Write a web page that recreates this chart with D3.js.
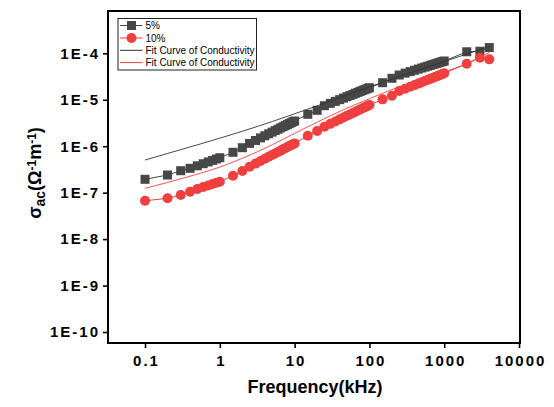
<!DOCTYPE html>
<html>
<head>
<meta charset="utf-8">
<script src="https://cdn.jsdelivr.net/npm/d3@7"></script>
<style>
  html, body { margin: 0; padding: 0; background: #fff; }
  svg { display: block; font-family: "Liberation Sans", Arial, sans-serif; }
</style>
</head>
<body>
<svg id="chart" width="554" height="407"></svg>
<script>
// Measurement frequencies (kHz)
const freq = [
  0.1, 0.2, 0.3, 0.4, 0.5, 0.6, 0.7, 0.8, 0.9, 1,
  1.5, 2, 2.5, 3, 3.5, 4, 4.5, 5, 5.5, 6, 6.5, 7, 7.5, 8, 8.5, 9, 9.5, 10,
  15, 20, 25, 30, 35, 40, 45, 50, 55, 60, 65, 70, 75, 80, 85, 90, 95, 100,
  150, 200, 250, 300, 350, 400, 450, 500, 550, 600, 650, 700, 750, 800, 850, 900, 950, 1000,
  2000, 3000, 4000
];

// AC conductivity, 5% sample (S/m)
const sigma5 = [
  1.94e-7, 2.40e-7, 2.97e-7, 3.34e-7, 3.79e-7, 4.20e-7, 4.59e-7, 4.95e-7, 5.31e-7, 5.65e-7,
  7.40e-7, 9.30e-7, 1.15e-6, 1.33e-6, 1.51e-6, 1.68e-6, 1.85e-6, 2.01e-6, 2.17e-6, 2.32e-6,
  2.48e-6, 2.63e-6, 2.78e-6, 2.92e-6, 3.07e-6, 3.21e-6, 3.36e-6, 3.49e-6,
  4.87e-6, 5.93e-6, 7.45e-6, 8.37e-6, 9.25e-6, 1.007e-5, 1.086e-5, 1.164e-5, 1.236e-5, 1.306e-5,
  1.377e-5, 1.442e-5, 1.51e-5, 1.574e-5, 1.633e-5, 1.698e-5, 1.758e-5, 1.82e-5,
  2.33e-5, 2.90e-5, 3.41e-5, 3.74e-5, 4.04e-5, 4.32e-5, 4.58e-5, 4.83e-5, 5.06e-5, 5.28e-5,
  5.50e-5, 5.71e-5, 5.91e-5, 6.10e-5, 6.29e-5, 6.47e-5, 6.65e-5, 6.83e-5,
  1.08e-4, 1.11e-4, 1.33e-4
];

// AC conductivity, 10% sample (S/m)
const sigma10 = [
  6.7e-8, 7.55e-8, 8.9e-8, 1.05e-7, 1.2e-7, 1.32e-7, 1.43e-7, 1.53e-7, 1.63e-7, 1.72e-7,
  2.32e-7, 2.92e-7, 3.62e-7, 4.22e-7, 4.80e-7, 5.37e-7, 5.92e-7, 6.47e-7, 7.00e-7, 7.53e-7,
  8.05e-7, 8.57e-7, 9.08e-7, 9.58e-7, 1.007e-6, 1.056e-6, 1.106e-6, 1.15e-6,
  1.68e-6, 2.12e-6, 2.63e-6, 3.03e-6, 3.41e-6, 3.79e-6, 4.15e-6, 4.51e-6, 4.84e-6, 5.19e-6,
  5.52e-6, 5.85e-6, 6.17e-6, 6.49e-6, 6.79e-6, 7.10e-6, 7.41e-6, 7.71e-6,
  1.02e-5, 1.22e-5, 1.54e-5, 1.73e-5, 1.91e-5, 2.07e-5, 2.23e-5, 2.39e-5, 2.54e-5, 2.68e-5,
  2.82e-5, 2.96e-5, 3.09e-5, 3.22e-5, 3.34e-5, 3.47e-5, 3.59e-5, 3.71e-5,
  5.97e-5, 8.04e-5, 7.42e-5
];

// Fitted conductivity curves
const fitFreq = [0.1, 0.2, 0.5, 1, 2, 5, 10, 20, 50, 100, 200, 500, 1000, 2000, 4000];
const fit5  = [5.05e-7, 6.98e-7, 1.07e-6, 1.49e-6, 2.1e-6, 3.39e-6, 5.0e-6, 7.4e-6, 1.26e-5, 1.9e-5, 2.77e-5, 4.57e-5, 6.65e-5, 9.66e-5, 1.4e-4];
const fit10 = [1.24e-7, 1.66e-7, 2.51e-7, 3.55e-7, 5.5e-7, 1.07e-6, 1.9e-6, 3.3e-6, 6.6e-6, 1.05e-5, 1.66e-5, 2.75e-5, 3.98e-5, 6.0e-5, 1.05e-4];

const xTicks = [0.1, 1, 10, 100, 1000, 10000];
const yTicks = [1e-10, 1e-9, 1e-8, 1e-7, 1e-6, 1e-5, 1e-4];
const seriesNames = ["5%", "10%", "Fit Curve of Conductivity", "Fit Curve of Conductivity"];

const gray = "#474747";
const red = "#ef3f3f";

const plot = { left: 108, right: 520, top: 11, bottom: 343 };
const svg = d3.select("#chart");

const x = d3.scaleLog().domain([0.032, 10300]).range([plot.left, plot.right]);
const y = d3.scaleLog().domain([5.8e-11, 8.15e-4]).range([plot.bottom, plot.top]);

// Axes
const xAxis = d3.axisBottom(x).tickValues(xTicks).tickFormat(d3.format("")).tickSize(5).tickPadding(7);
const yAxis = d3.axisLeft(y).tickValues(yTicks)
  .tickFormat(d => "1E" + Math.round(Math.log10(d))).tickSize(5).tickPadding(5);

const gx = svg.append("g").attr("transform", `translate(0,${plot.bottom})`).call(xAxis);
const gy = svg.append("g").attr("transform", `translate(${plot.left},0)`).call(yAxis);
[gx, gy].forEach(g => {
  g.select(".domain").remove();
  g.selectAll(".tick line").attr("stroke", "#000").attr("stroke-width", 1.6);
  g.selectAll(".tick text").attr("fill", "#000").style("font-size", "15px").style("font-weight", "bold")
    .style("letter-spacing", "2px")
    .style("font-family", "'Liberation Sans', Arial, sans-serif");
});
// letter-spacing adds trailing space; shift labels to keep their alignment
gy.selectAll(".tick text").attr("dx", "2px");
gx.selectAll(".tick text").attr("dx", "1px");

// Frame
svg.append("rect")
  .attr("x", plot.left).attr("y", plot.top)
  .attr("width", plot.right - plot.left).attr("height", plot.bottom - plot.top)
  .attr("fill", "none").attr("stroke", "#000").attr("stroke-width", 2);

svg.append("defs").append("clipPath").attr("id", "plotclip")
  .append("rect").attr("x", plot.left).attr("y", plot.top)
  .attr("width", plot.right - plot.left).attr("height", plot.bottom - plot.top);

const area = svg.append("g").attr("clip-path", "url(#plotclip)");

const d5 = freq.map((f, i) => [f, sigma5[i]]);
const d10 = freq.map((f, i) => [f, sigma10[i]]);
const line = d3.line().x(d => x(d[0])).y(d => y(d[1]));
const smooth = d3.line().x(d => x(d[0])).y(d => y(d[1])).curve(d3.curveMonotoneX);

// 5% series
area.append("path").datum(d5).attr("d", line).attr("fill", "none").attr("stroke", gray).attr("stroke-width", 1);
area.selectAll("rect.m5").data(d5).join("rect").attr("class", "m5")
  .attr("x", d => x(d[0]) - 4.5).attr("y", d => y(d[1]) - 4.5)
  .attr("width", 9).attr("height", 9).attr("fill", gray);

// 10% series
area.append("path").datum(d10).attr("d", line).attr("fill", "none").attr("stroke", red).attr("stroke-width", 1);
area.selectAll("circle.m10").data(d10).join("circle").attr("class", "m10")
  .attr("cx", d => x(d[0])).attr("cy", d => y(d[1])).attr("r", 5).attr("fill", red);

// Fit curves
area.append("path").datum(fitFreq.map((f, i) => [f, fit5[i]])).attr("d", smooth)
  .attr("fill", "none").attr("stroke", "#333").attr("stroke-width", 0.9);
area.append("path").datum(fitFreq.map((f, i) => [f, fit10[i]])).attr("d", smooth)
  .attr("fill", "none").attr("stroke", red).attr("stroke-width", 0.9);

// Legend
const lg = svg.append("g");
lg.append("rect").attr("x", 118).attr("y", 18.5).attr("width", 138.5).attr("height", 51.5)
  .attr("fill", "#fff").attr("stroke", "#222").attr("stroke-width", 1);
const rowY = [25.5, 38, 50.3, 62.6];
const rowColor = [gray, red, "#333", red];
rowY.forEach((ry, i) => {
  lg.append("line").attr("x1", 120).attr("x2", 142.5).attr("y1", ry).attr("y2", ry)
    .attr("stroke", rowColor[i]).attr("stroke-width", 1);
  lg.append("text").attr("x", 145.5).attr("y", ry).attr("dy", "0.35em")
    .style("font-size", "10px").attr("fill", "#000").text(seriesNames[i]);
});
lg.append("rect").attr("x", 131.5 - 4.5).attr("y", rowY[0] - 4.5).attr("width", 9).attr("height", 9).attr("fill", gray);
lg.append("circle").attr("cx", 131.5).attr("cy", rowY[1]).attr("r", 5).attr("fill", red);

// Axis titles
svg.append("text").attr("x", 315).attr("y", 393).attr("text-anchor", "middle")
  .style("font-size", "18px").style("font-weight", "bold").text("Frequency(kHz)");

const yt = svg.append("text").attr("transform", "translate(41,173) rotate(-90)")
  .attr("text-anchor", "middle").style("font-size", "18px").style("font-weight", "bold");
yt.append("tspan").text("σ");
yt.append("tspan").attr("baseline-shift", "-25%").style("font-size", "14px").text("ac");
yt.append("tspan").text("(Ω");
yt.append("tspan").attr("baseline-shift", "45%").style("font-size", "12px").text("-1");
yt.append("tspan").text("m");
yt.append("tspan").attr("baseline-shift", "45%").style("font-size", "12px").text("-1");
yt.append("tspan").text(")");
</script>
</body>
</html>
